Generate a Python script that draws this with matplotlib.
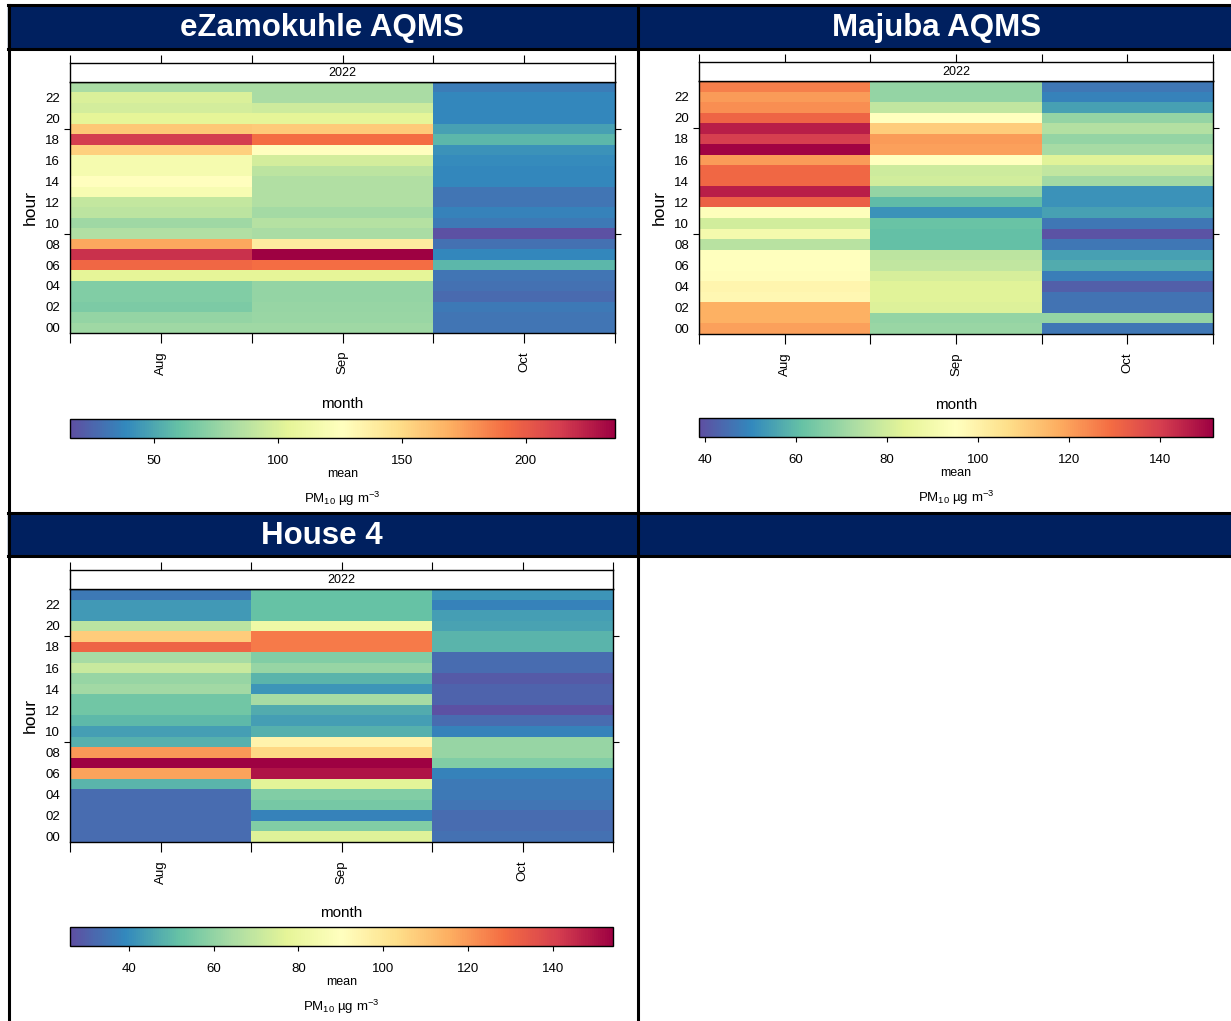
import numpy as np
import matplotlib
matplotlib.use("Agg")
import matplotlib.pyplot as plt
from matplotlib.patches import Rectangle
from matplotlib.colors import Normalize

# data: mean PM10 by hour (00..23) for each month
months = ["Aug", "Sep", "Oct"]
year_label = "2022"
hours = np.arange(24)

ezam_aug = [78, 75, 67, 69, 69, 104, 194, 218, 172, 84, 78, 89, 91, 119, 126, 117, 117, 155, 214, 159, 104, 97, 100, 82]
ezam_sep = [78, 77, 76, 75, 75, 104, 192, 236, 139, 82, 86, 80, 84, 84, 84, 89, 97, 126, 192, 157, 104, 95, 82, 82]
ezam_oct = [31, 31, 33, 27, 29, 31, 56, 38, 29, 17, 33, 36, 31, 31, 38, 38, 40, 42, 56, 47, 38, 38, 38, 34]

maj_aug = [120, 117, 117, 98, 99, 96, 95, 95, 75, 90, 80, 94, 132, 146, 130, 130, 121, 151, 140, 146, 131, 123, 121, 126]
maj_sep = [70, 69, 82, 83, 83, 81, 77, 76, 61, 61, 62, 52, 60, 69, 80, 79, 95, 120, 121, 111, 95, 77, 69, 69]
maj_oct = [47, 69, 46, 46, 42, 48, 57, 55, 47, 40, 47, 55, 52, 52, 71, 77, 83, 72, 69, 74, 69, 55, 49, 47]

h4_aug = [33, 33, 33, 33, 33, 49, 118, 154, 120, 48, 44, 50, 54, 54, 63, 61, 71, 64, 131, 108, 68, 43, 43, 36]
h4_sep = [76, 57, 38, 55, 57, 77, 150, 154, 105, 95, 48, 44, 47, 64, 42, 49, 61, 57, 126, 126, 82, 52, 52, 52]
h4_oct = [34, 33, 33, 35, 36, 36, 38, 57, 61, 61, 38, 33, 27, 31, 31, 29, 33, 33, 49, 49, 45, 44, 38, 42]

titles = ["eZamokuhle AQMS", "Majuba AQMS", "House 4"]
cbar_limits = [(16, 236), (38.7, 151.6), (26.1, 154.2)]
cbar_ticks = [[50, 100, 150, 200], [40, 60, 80, 100, 120, 140], [40, 60, 80, 100, 120, 140]]

W, H = 1231, 1021
NAVY = "#00205f"
FONT = ["Liberation Sans", "DejaVu Sans"]
PT = 0.72  # points per pixel at dpi 100

plt.rcParams["font.family"] = FONT
plt.rcParams["mathtext.fontset"] = "custom"
plt.rcParams["mathtext.rm"] = "Liberation Sans"
plt.rcParams["mathtext.it"] = "Liberation Sans:italic"

fig = plt.figure(figsize=(W / 100, H / 100), dpi=100)
fig.patch.set_facecolor("white")


def px_axes(x0, y0, x1, y1):
    # pixel box (top-left origin) -> figure axes
    return fig.add_axes([x0 / W, 1 - y1 / H, (x1 - x0) / W, (y1 - y0) / H])


def fy(y):
    return 1 - y / H


# table frame and header bars
fig.patches.append(Rectangle((8 / W, fy(49)), (W - 8) / W, 43 / H, transform=fig.transFigure, color=NAVY, zorder=0))
fig.patches.append(Rectangle((8 / W, fy(556)), (W - 8) / W, 43 / H, transform=fig.transFigure, color=NAVY, zorder=0))
for (xa, ya, xb, yb) in [(8, 5.5, W, 5.5), (8, 49, W, 49), (8, 513, W, 513), (8, 556, W, 556),
                         (9, 5, 9, H), (637.5, 5, 637.5, H)]:
    fig.add_artist(plt.Line2D([xa / W, xb / W], [fy(ya), fy(yb)], transform=fig.transFigure,
                              color="black", lw=2.2, zorder=5))

fig.text(322 / W, fy(28), titles[0], color="white", fontsize=22.5, fontweight="bold",
         ha="center", va="center")
fig.text(937 / W, fy(28), titles[1], color="white", fontsize=22.5, fontweight="bold",
         ha="center", va="center")
fig.text(322 / W, fy(536), titles[2], color="white", fontsize=22.5, fontweight="bold",
         ha="center", va="center")

panels = [
    ((ezam_aug, ezam_sep, ezam_oct), (70, 82, 615, 333), (419, 438)),
    ((maj_aug, maj_sep, maj_oct), (699, 81, 1213, 334), (418, 437)),
    ((h4_aug, h4_sep, h4_oct), (70, 589, 613, 842), (927, 946)),
]

cmap = plt.get_cmap("Spectral_r")

for i, (cols, (x0, y0, x1, y1), (cy0, cy1)) in enumerate(panels):
    z = np.array(cols).T  # rows = hour, cols = month
    vmin, vmax = cbar_limits[i]
    norm = Normalize(vmin=vmin, vmax=vmax)

    ax = px_axes(x0, y0, x1, y1)
    mesh = ax.pcolormesh(np.arange(len(months) + 1), np.arange(25) - 0.5, z, cmap=cmap, norm=norm)
    ax.set_xlim(0, 3)
    ax.set_ylim(-0.5, 23.5)
    for s in ax.spines.values():
        s.set_linewidth(1.0)
    ax.set_xticks([0.5, 1.5, 2.5])
    ax.set_xticklabels(months, rotation=90, fontsize=9.5)
    ax.set_xticks([0, 1, 2, 3], minor=True)
    ax.tick_params(axis="x", which="both", direction="out", length=10 * PT, width=0.8, pad=8 * PT)
    ax.set_yticks(hours[::2])
    ax.set_yticklabels([f"{h:02d}" for h in hours[::2]], fontsize=9.5)
    ax.set_yticks([4, 9, 14, 19], minor=True)
    ax.tick_params(axis="y", which="major", length=0, pad=10 * PT)
    ax.tick_params(axis="y", which="minor", direction="out", length=6 * PT, width=0.8,
                   left=True, right=True)
    ax.set_ylabel("hour", fontsize=12.5, labelpad=5)

    # strip with year
    sax = px_axes(x0, y0 - 19, x1, y0)
    sax.set_xlim(0, 3)
    sax.set_ylim(0, 1)
    sax.set_yticks([])
    sax.set_xticks([0, 0.5, 1, 1.5, 2, 2.5, 3])
    sax.set_xticklabels([])
    sax.tick_params(axis="x", bottom=False, top=True, direction="out", length=8 * PT, width=0.8)
    for s in sax.spines.values():
        s.set_linewidth(1.0)
    sax.text(1.5, 0.45, year_label, ha="center", va="center", fontsize=9)

    # axis title between month labels and colorbar
    fig.text((x0 + x1) / 2 / W, fy(y1 + 71), "month", ha="center", va="center", fontsize=11)

    cax = px_axes(x0, cy0, x1, cy1)
    cb = fig.colorbar(mesh, cax=cax, orientation="horizontal")
    cb.set_ticks(cbar_ticks[i])
    cb.ax.tick_params(direction="out", length=5 * PT, width=0.8, labelsize=9.5, pad=12 * PT)
    cb.outline.set_linewidth(1.0)
    fig.text((x0 + x1) / 2 / W, fy(cy1 + 36), "mean", ha="center", va="center", fontsize=9)
    fig.text((x0 + x1) / 2 / W, fy(cy1 + 61), r"PM$_{10}$ µg m$^{-3}$", ha="center", va="center",
             fontsize=9.5)

fig.savefig("out.png", dpi=100)
